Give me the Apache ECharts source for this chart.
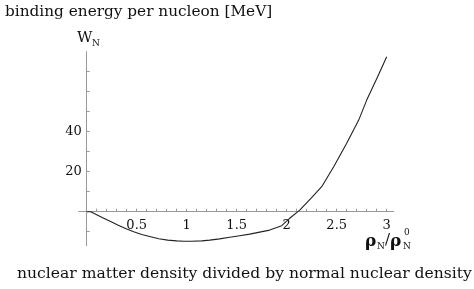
<!DOCTYPE html>
<html>
<head>
<meta charset="utf-8">
<script src="https://cdn.jsdelivr.net/npm/echarts@6/dist/echarts.min.js"></script>
<style>html,body{margin:0;padding:0;background:#fff}#c{width:474px;height:289px}</style>
</head>
<body>
<div id="c"></div>
<script>
// density ratio rho_N / rho_N^0
const densityRatio = [0, 0.04, 0.1, 0.17, 0.25, 0.31, 0.4, 0.47, 0.55, 0.64, 0.72, 0.81, 0.9, 0.97, 1.05, 1.15, 1.23, 1.33, 1.43, 1.53, 1.63, 1.73, 1.83, 1.95, 2.03, 2.13, 2.24, 2.35, 2.47, 2.6, 2.72, 2.8, 2.9, 3.0];
// binding energy per nucleon W_N [MeV]
const bindingEnergy = [0, 0, -1.5, -3.3, -5.2, -6.7, -8.6, -10, -11.4, -12.5, -13.5, -14.2, -14.6, -14.8, -14.8, -14.6, -14.2, -13.6, -12.8, -12.0, -11.2, -10.2, -9.2, -7, -3.3, 0.8, 6.5, 12.5, 22.5, 34.2, 45.8, 55.8, 66.5, 77.5];
const xTickValues = [0.1,0.2,0.3,0.4,0.5,0.6,0.7,0.8,0.9,1,1.1,1.2,1.3,1.4,1.5,1.6,1.7,1.8,1.9,2,2.1,2.2,2.3,2.4,2.5,2.6,2.7,2.8,2.9,3];
const xLabelValues = [0.5, 1, 1.5, 2, 2.5, 3];
const yTickValues = [-10, 10, 20, 30, 40, 50, 60, 70];
const yLabelValues = [20, 40];
const titleText = 'binding energy per nucleon [MeV]';
const captionText = 'nuclear matter density divided by normal nuclear density';

const FONT = 'DejaVu Serif';
const chart = echarts.init(document.getElementById('c'), null, {renderer: 'canvas'});
const data = densityRatio.map((x, i) => [x, bindingEnergy[i]]);
const axisColor = '#999';
chart.setOption({
  animation: false,
  backgroundColor: '#fff',
  title: [
    {text: titleText, left: 0, top: 0, textStyle: {fontFamily: FONT, fontSize: 15.3, fontWeight: 'normal', color: '#111'}},
    {text: captionText, left: 12, top: 261, textStyle: {fontFamily: FONT, fontSize: 15.6, fontWeight: 'normal', color: '#111'}}
  ],
  grid: {left: 78.7, right: 80.3, top: 51.7, bottom: 43.3, containLabel: false},
  xAxis: {
    type: 'value', min: -0.08, max: 3.07, offset: -34,
    splitLine: {show: false},
    axisLine: {onZero: false, lineStyle: {color: axisColor, width: 1}},
    axisTick: {show: true, inside: true, length: 3, customValues: xTickValues, lineStyle: {color: axisColor}},
    axisLabel: {customValues: xLabelValues, margin: 7, fontFamily: FONT, fontSize: 13, color: '#111',
      formatter: v => String(v)}
  },
  yAxis: {
    type: 'value', min: -17, max: 80, offset: -8,
    splitLine: {show: false},
    axisLine: {onZero: false, lineStyle: {color: axisColor, width: 1}},
    axisTick: {show: true, inside: true, length: 3, customValues: yTickValues, lineStyle: {color: axisColor}},
    axisLabel: {customValues: yLabelValues, margin: 5, fontFamily: FONT, fontSize: 13, color: '#111'}
  },
  series: [{
    type: 'line', data: data, showSymbol: false, smooth: false,
    lineStyle: {color: '#222', width: 1.1}
  }],
  graphic: [
    {type: 'text', left: 77, top: 31, style: {text: 'W', fontFamily: FONT, fontSize: 15, fill: '#111'}},
    {type: 'text', left: 92, top: 39, style: {text: 'N', fontFamily: FONT, fontSize: 9, fill: '#111'}},
    {type: 'text', left: 365, top: 233, style: {text: 'ρ', fontFamily: FONT, fontSize: 17, fontWeight: 'bold', fill: '#111'}},
    {type: 'text', left: 377, top: 242, style: {text: 'N', fontFamily: FONT, fontSize: 9, fill: '#111'}},
    {type: 'text', left: 385, top: 233, style: {text: '/', fontFamily: FONT, fontSize: 15, fill: '#111'}},
    {type: 'text', left: 390, top: 233, style: {text: 'ρ', fontFamily: FONT, fontSize: 17, fontWeight: 'bold', fill: '#111'}},
    {type: 'text', left: 403, top: 242, style: {text: 'N', fontFamily: FONT, fontSize: 9, fill: '#111'}},
    {type: 'text', left: 404, top: 228, style: {text: '0', fontFamily: FONT, fontSize: 9, fill: '#111'}}
  ]
});
</script>
</body>
</html>
